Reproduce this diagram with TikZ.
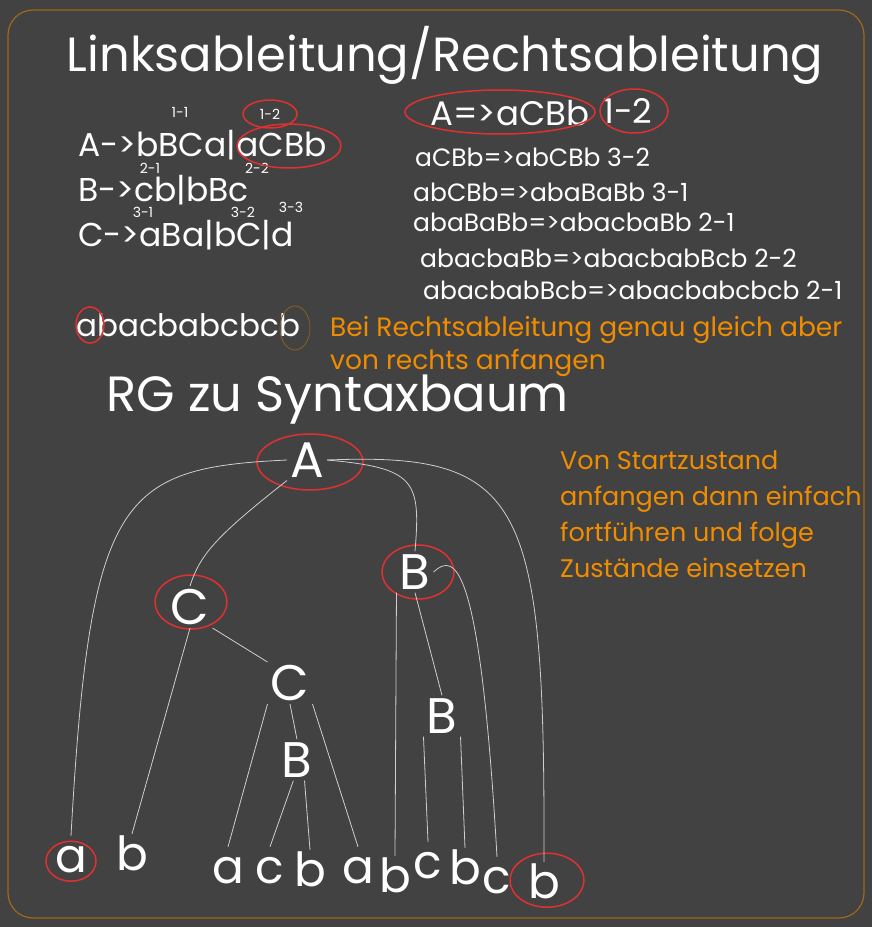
\documentclass[tikz,border=0pt]{standalone}
\usepackage{fontspec}
\setmainfont{Poppins}
\usepackage{xcolor}
\usepackage{tikz}
\usetikzlibrary{positioning}

\definecolor{bgcol}{HTML}{424242}
\definecolor{framecol}{HTML}{A0681C}
\definecolor{notecol}{HTML}{F08C00}
\definecolor{ringred}{HTML}{E03131}
\definecolor{wire}{HTML}{CFCFCF}
\definecolor{dimring}{HTML}{8C5E22}

\newcommand{\fs}[1]{\fontsize{#1}{#1}\selectfont}

\begin{document}
\begin{tikzpicture}[
  x=1pt, y=-1pt,
  title/.style={text=white, inner sep=0pt, font=\fs{48}},
  rule/.style={text=white, anchor=west, inner sep=0pt, font=\fs{33}},
  tag/.style={text=white, inner sep=0pt, font=\fs{14}},
  deriv/.style={text=white, anchor=west, inner sep=0pt, font=\fs{25}},
  note/.style={text=notecol, anchor=west, inner sep=0pt, font=\fs{26.5}},
  sym/.style={text=white, inner sep=3pt, font=\fs{50}},
  leaf/.style={text=white, anchor=base, inner sep=6pt, text height=30pt, font=\fs{47}},
  edge/.style={draw=wire, line width=0.8pt},
  ring/.style={draw=ringred, line width=1.5pt},
  frame/.style={draw=framecol, line width=1.2pt, rounded corners=25pt}
]
  \useasboundingbox[fill=bgcol] (0,0) rectangle (872,927);
  \draw[frame] (8,10) rectangle (864,918);

  % headline
  \node[title] (head) at (445,55) {Linksableitung/Rechtsableitung};

  % grammar
  \node[rule] (ruleA) at (78,145) {A->bBCa|aCBb};
  \node[rule] (ruleB) at (78,190) {B->cb|bBc};
  \node[rule] (ruleC) at (78,235) {C->aBa|bC|d};
  \node[tag] (t11) at (180,112) {1-1};
  \node[tag] (t12) at (270,114) {1-2};
  \node[tag] (t21) at (150,168) {2-1};
  \node[tag] (t22) at (257,168) {2-2};
  \node[tag] (t31) at (143,212) {3-1};
  \node[tag] (t32) at (243,212) {3-2};
  \node[tag] (t33) at (291,207) {3-3};
  \draw[ring] (t12) ellipse [x radius=27pt, y radius=14pt];
  \draw[ring] (289,146) ellipse [x radius=52pt, y radius=22pt];

  % derivation
  \node[deriv, font=\fs{34}] (d0) at (430,113) {A=>aCBb};
  \node[deriv, font=\fs{34}] (d0n) at (603,111) {1-2};
  \draw[ring] (500,112) ellipse [x radius=95pt, y radius=22pt];
  \draw[ring] (634,111) ellipse [x radius=34pt, y radius=22pt];
  \node[deriv] (d1) at (415,157) {aCBb=>abCBb 3-2};
  \node[deriv] (d2) at (413,192) {abCBb=>abaBaBb 3-1};
  \node[deriv] (d3) at (413,222) {abaBaBb=>abacbaBb 2-1};
  \node[deriv] (d4) at (420,258) {abacbaBb=>abacbabBcb 2-2};
  \node[deriv] (d5) at (423,290) {abacbabBcb=>abacbabcbcb 2-1};

  \node[rule, font=\fs{31}] (word) at (76,325) {abacbabcbcb};
  \draw[ring] (90,325) ellipse [x radius=14pt, y radius=18pt];
  \draw[dimring, line width=0.8pt] (295,328) ellipse [x radius=15pt, y radius=22pt];
  \node[note] (n1) at (330,330) {Bei Rechtsableitung genau gleich aber};
  \node[note] (n2) at (330,363) {von rechts anfangen};

  \node[title, anchor=west, font=\fs{49.5}] (head2) at (106,400) {RG zu Syntaxbaum};
  \node[note, anchor=north west, align=left, font=\fontsize{25.5}{36}\selectfont]
    (n3) at (560,450) {Von Startzustand\\anfangen dann einfach\\fortführen und folge\\Zustände einsetzen};

  % syntax tree
  \node[sym] (A) at (307,460) {A};
  \node[sym] (C) at (190,607) {C};
  \node[sym] (B) at (415,572) {B};
  \node[sym] (C2) at (290,683) {C};
  \node[sym] (B3) at (297,760) {B};
  \node[sym] (B2) at (442,716) {B};
  \draw[ring] (A) ++(3,2) ellipse [x radius=53pt, y radius=28pt];
  \draw[ring] (C) ++(1,-5) ellipse [x radius=36pt, y radius=27pt];
  \draw[ring] (B) ++(3,0) ellipse [x radius=36pt, y radius=27pt];

  \node[leaf] (l1) at (71,872) {a};
  \node[leaf] (l2) at (132,870) {b};
  \node[leaf] (l3) at (228,883) {a};
  \node[leaf] (l4) at (270,883) {c};
  \node[leaf] (l5) at (310,886) {b};
  \node[leaf] (l6) at (358,883) {a};
  \node[leaf] (l7) at (395,892) {b};
  \node[leaf] (l8) at (428,878) {c};
  \node[leaf] (l9) at (465,884) {b};
  \node[leaf] (l10) at (497,893) {c};
  \node[leaf] (l11) at (544,898) {b};
  \draw[ring] (l1) ++(0,4) ellipse [x radius=25pt, y radius=20pt];
  \draw[ring] (l11) ++(3,-3) ellipse [x radius=37pt, y radius=27pt];

  \draw[edge] (A.west) .. controls (120,468) and (90,495) .. (l1.north);
  \draw[edge] (A.south west) .. controls (215,537) and (200,555) .. (C.north);
  \draw[edge] (A.east) .. controls (415,468) and (421,480) .. (B.north);
  \draw[edge] (A.east) .. controls (525,452) and (545,500) .. (l11.north);
  \draw[edge] (C.south) -- (l2.north);
  \draw[edge] (C.south east) -- (C2.north west);
  \draw[edge] (C2.south west) -- (l3.north);
  \draw[edge] (C2.south) -- (B3.north);
  \draw[edge] (C2.south east) -- (l6.north);
  \draw[edge] (B3.260) -- (l4.north);
  \draw[edge] (B3.290) -- (l5.north);
  \draw[edge] (B.south west) -- (l7.north);
  \draw[edge] (B.south) -- (B2.north);
  \draw[edge] (B.east) .. controls (455,552) and (480,560) .. (l10.north);
  \draw[edge] (B2.south west) -- (l8.north);
  \draw[edge] (B2.south east) -- (l9.north);
\end{tikzpicture}
\end{document}
